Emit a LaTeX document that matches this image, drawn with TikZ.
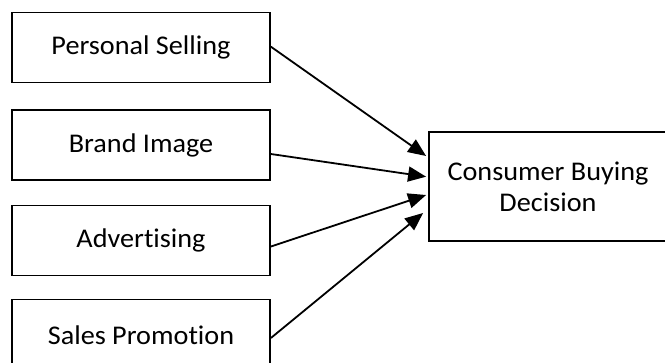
\documentclass[tikz,border=0pt]{standalone}
\usepackage{fontspec}
\setmainfont{Carlito}[Ligatures=NoCommon]
\usetikzlibrary{arrows.meta}
\newcommand{\wtxt}[1]{\scalebox{1.045}[1]{#1}}
\begin{document}
\begin{tikzpicture}[x=1pt,y=-1pt,
  box/.style={draw=black,line width=1.8pt,fill=white,minimum width=258pt,minimum height=70pt,inner sep=0pt,font=\fontsize{27}{31}\selectfont,align=center},
  arr/.style={line width=1.8pt,-{Triangle[length=18pt,width=15pt]}}]
\useasboundingbox[fill=white] (0,0) rectangle (665,362);
\node[box] (ps) at (141,47.5) {\wtxt{Personal Selling}};
\node[box] (bi) at (141,145) {\wtxt{Brand Image}};
\node[box] (ad) at (141,240.5) {\wtxt{Advertising}};
\node[box,minimum height=71pt] (sp) at (141,335) {\wtxt{Sales Promotion}};
\node[box,minimum width=238pt,minimum height=109pt] (cb) at (548,186.5) {\wtxt{Consumer Buying}\\[0pt]\wtxt{Decision}};
\draw[arr] ([yshift=0.8pt]ps.east) -- ([xshift=-2pt,yshift=30.5pt]cb.west);
\draw[arr] ([yshift=-9pt]bi.east) -- ([xshift=-2pt,yshift=9.8pt]cb.west);
\draw[arr] ([yshift=-6pt]ad.east) -- ([xshift=-2pt,yshift=-8.5pt]cb.west);
\draw[arr] ([yshift=-3pt]sp.east) -- ([xshift=-5pt,yshift=-26.5pt]cb.west);
\end{tikzpicture}
\end{document}
